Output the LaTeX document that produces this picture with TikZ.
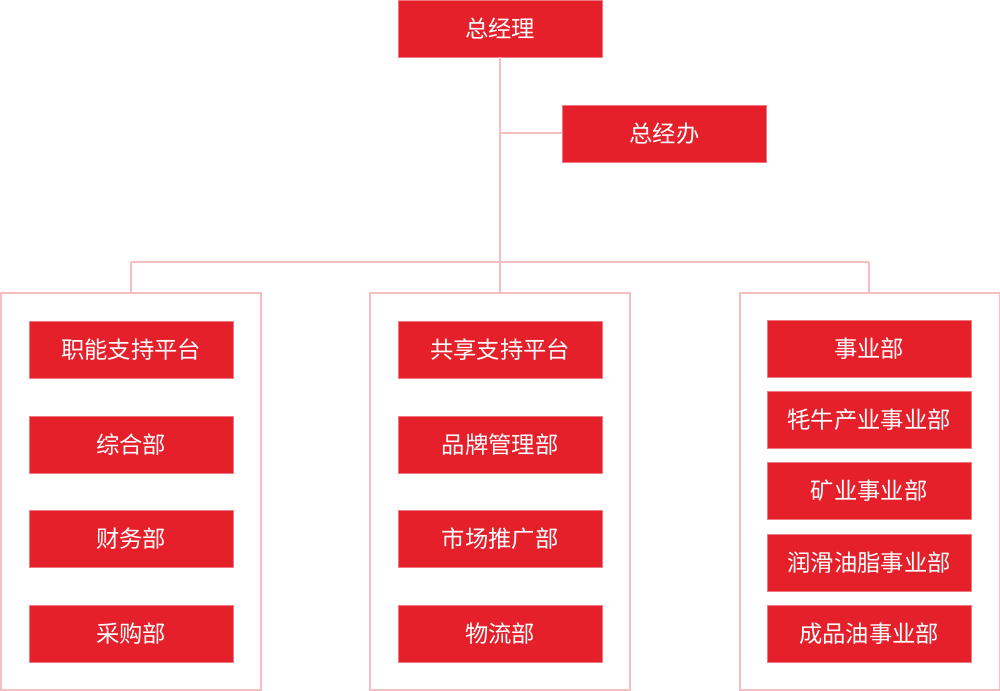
\documentclass[tikz,border=0pt]{standalone}
\usepackage{fontspec}
\setmainfont{Noto Sans CJK SC}
\definecolor{boxred}{HTML}{E5202B}
\definecolor{linepink}{HTML}{F5BFC2}
\tikzset{
  unit/.style={fill=boxred, draw=boxred!60!white, line width=0.5pt, text=white,
    minimum width=153pt, minimum height=42.75pt, inner sep=0pt, font=\fontsize{17.5}{20}\selectfont},
  group/.style={draw=linepink, line width=1.5pt, minimum width=195pt, minimum height=297pt, inner sep=0pt},
  link/.style={draw=linepink, line width=1.5pt}
}
\begin{document}
\begin{tikzpicture}[x=0.75pt, y=-0.75pt]
\useasboundingbox (0,0) rectangle (1000,691);
% groups
\node[group] (Gl) at (130.5,491.5) {};
\node[group] (Gm) at (500,491.5) {};
\node[group] (Gr) at (869.5,491.5) {};
% top
\node[unit] (GM) at (500,28.5) {总经理};
\node[unit] (GO) at (664.5,133.5) {总经办};
\coordinate (J) at (500,262);
\coordinate (Jo) at (500,133.5);
\coordinate (Jl) at (131,262);
\coordinate (Jr) at (869,262);
% left
\node[unit] (Zn) at (131,349.5) {职能支持平台};
\node[unit] (Zh) at (131,444.5) {综合部};
\node[unit] (Cw) at (131,538.5) {财务部};
\node[unit] (Cg) at (131,633.5) {采购部};
% middle
\node[unit] (Gx) at (500,349.5) {共享支持平台};
\node[unit] (Pp) at (500,444.5) {品牌管理部};
\node[unit] (Sc) at (500,538.5) {市场推广部};
\node[unit] (Wl) at (500,633.5) {物流部};
% right
\node[unit] (Sy) at (869,348.5) {事业部};
\node[unit] (Mn) at (869,419.5) {牦牛产业事业部};
\node[unit] (Ky) at (869,490.5) {矿业事业部};
\node[unit] (Rh) at (869,562.5) {润滑油脂事业部};
\node[unit] (Cp) at (869,633.5) {成品油事业部};
% links
\draw[link] (GM.south) -- (J);
\draw[link] (Jo) -- (GO.west);
\draw[link] (Jl) -- (Jr);
\draw[link] (Jl) -- (Jl |- Gl.north);
\draw[link] (J) -- (Gm.north);
\draw[link] (Jr) -- (Jr |- Gr.north);
\end{tikzpicture}
\end{document}
